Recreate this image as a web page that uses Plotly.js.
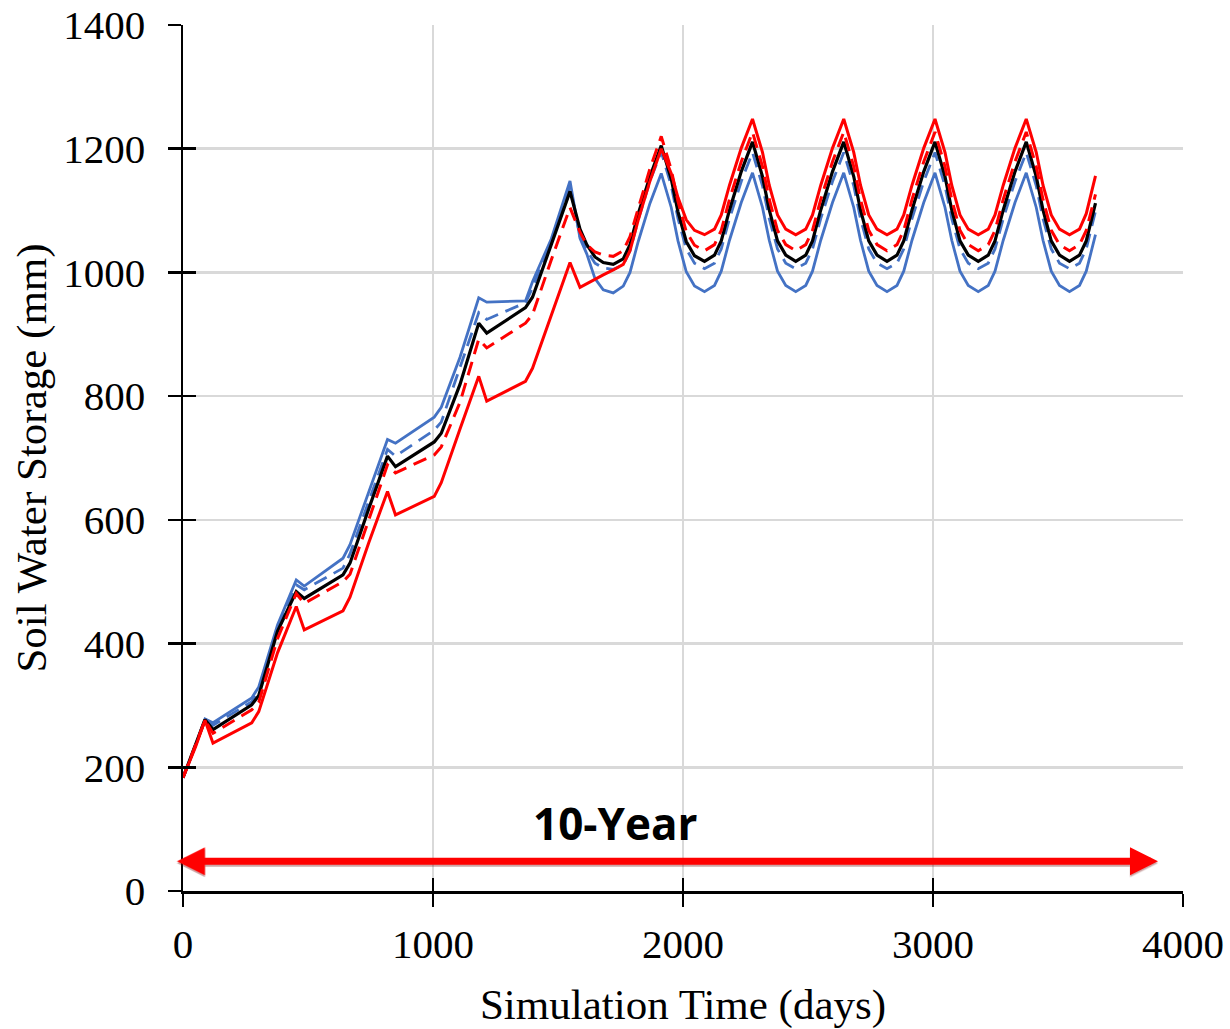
<!DOCTYPE html>
<html>
<head>
<meta charset="utf-8">
<script src="https://cdn.plot.ly/plotly-3.0.1.min.js"></script>
<style>html,body{margin:0;padding:0;background:#fff;}#chart{width:1230px;height:1029px;}</style>
</head>
<body>
<div id="chart"></div>
<script>
// Simulation time (days)
const days = [0, 50, 88, 120, 275, 303, 378, 453, 485, 640, 668, 743, 818, 850, 1005, 1033, 1108, 1183, 1215, 1370, 1398, 1473, 1548,
  1588, 1615, 1648, 1681, 1721, 1761, 1788, 1821, 1868, 1913,
  1953, 1980, 2013, 2046, 2086, 2126, 2153, 2186, 2233, 2278,
  2318, 2345, 2378, 2411, 2451, 2491, 2518, 2551, 2598, 2643,
  2683, 2710, 2743, 2776, 2816, 2856, 2883, 2916, 2963, 3008,
  3048, 3075, 3108, 3141, 3181, 3221, 3248, 3281, 3328, 3373,
  3413, 3440, 3473, 3506, 3546, 3586, 3613, 3650];

// Soil water storage (mm)
const blueSolid = [183, 235, 278, 272, 312, 330, 430, 503, 493, 538, 560, 645, 730, 724, 766, 782, 863, 959, 952, 954, 985, 1054, 1148,
  1055, 1030, 990, 972, 967, 978, 1000, 1050, 1112, 1160,
  1105, 1051, 1001, 978, 969, 979, 1002, 1052, 1113, 1161,
  1105, 1052, 1002, 979, 969, 979, 1002, 1052, 1113, 1161,
  1105, 1052, 1002, 979, 969, 979, 1002, 1052, 1113, 1161,
  1105, 1052, 1002, 979, 969, 979, 1002, 1052, 1113, 1161,
  1105, 1052, 1002, 979, 969, 979, 1002, 1061];

const blueDash = [183, 235, 277, 268, 306, 322, 425, 495, 487, 522, 545, 630, 714, 703, 745, 758, 845, 935, 924, 951, 975, 1050, 1140,
  1058, 1036, 1015, 1007, 1005, 1012, 1035, 1085, 1148, 1195,
  1140, 1087, 1038, 1015, 1006, 1015, 1038, 1087, 1147, 1194,
  1140, 1087, 1038, 1015, 1006, 1015, 1038, 1087, 1147, 1194,
  1140, 1087, 1038, 1015, 1006, 1015, 1038, 1087, 1147, 1194,
  1140, 1087, 1038, 1015, 1006, 1015, 1038, 1087, 1147, 1194,
  1140, 1087, 1038, 1015, 1006, 1015, 1038, 1099];

const blackSolid = [183, 235, 277, 261, 301, 316, 420, 484, 473, 511, 530, 618, 703, 686, 726, 740, 819, 918, 902, 943, 960, 1045, 1131,
  1070, 1045, 1025, 1016, 1013, 1022, 1045, 1095, 1155, 1205,
  1151, 1098, 1050, 1027, 1018, 1028, 1051, 1101, 1163, 1211,
  1155, 1101, 1051, 1028, 1018, 1028, 1051, 1101, 1163, 1211,
  1155, 1101, 1051, 1028, 1018, 1028, 1051, 1101, 1163, 1211,
  1155, 1101, 1051, 1028, 1018, 1028, 1051, 1101, 1163, 1211,
  1155, 1101, 1051, 1028, 1018, 1028, 1051, 1112];

const redDash = [183, 235, 276, 255, 293, 305, 408, 481, 465, 500, 512, 600, 689, 676, 705, 718, 790, 892, 878, 918, 932, 1020, 1105,
  1065, 1045, 1033, 1028, 1026, 1035, 1058, 1105, 1168, 1220,
  1166, 1115, 1066, 1044, 1035, 1045, 1068, 1118, 1179, 1227,
  1171, 1118, 1068, 1045, 1035, 1045, 1068, 1118, 1179, 1227,
  1171, 1118, 1068, 1045, 1035, 1045, 1068, 1118, 1179, 1227,
  1171, 1118, 1068, 1045, 1035, 1045, 1068, 1118, 1179, 1227,
  1171, 1118, 1068, 1045, 1035, 1045, 1068, 1126];

const redSolid = [183, 233, 276, 239, 272, 290, 385, 460, 422, 453, 475, 563, 646, 608, 638, 660, 747, 832, 792, 824, 845, 932, 1016,
  976, 982, 989, 996, 1004, 1013, 1035, 1085, 1148, 1200,
  1160, 1121, 1085, 1068, 1061, 1070, 1093, 1141, 1201, 1248,
  1194, 1141, 1093, 1070, 1061, 1070, 1093, 1141, 1201, 1248,
  1194, 1141, 1093, 1070, 1061, 1070, 1093, 1141, 1201, 1248,
  1194, 1141, 1093, 1070, 1061, 1070, 1093, 1141, 1201, 1248,
  1194, 1141, 1093, 1070, 1061, 1070, 1095, 1156];

// Axis ticks
const xTicks = [0, 1000, 2000, 3000, 4000];
const yTicks = [0, 200, 400, 600, 800, 1000, 1200, 1400];
const xGrid = [1000, 2000, 3000, 4000];
const yGrid = [200, 400, 600, 800, 1000, 1200];

// Annotation
const spanLabel = '10-Year';
const spanStart = -30, spanEnd = 3900, spanLevel = 48;
const labelX = 1728, labelY = 110;

const BLUE = '#4472C4', RED = '#FF0000';
const DASH = '14px,8px';

const traces = [
  {x: days, y: blueSolid, mode: 'lines', line: {color: BLUE, width: 2.8}, name: 'blue solid'},
  {x: days, y: blueDash, mode: 'lines', line: {color: BLUE, width: 2.8, dash: DASH}, name: 'blue dashed'},
  {x: days, y: blackSolid, mode: 'lines', line: {color: '#000000', width: 3.2}, name: 'black'},
  {x: days, y: redSolid, mode: 'lines', line: {color: RED, width: 3}, name: 'red solid'},
  {x: days, y: redDash, mode: 'lines', line: {color: RED, width: 3, dash: DASH}, name: 'red dashed'},
  {x: [], y: [], xaxis: 'x2', yaxis: 'y2', showlegend: false, hoverinfo: 'skip'},
  {x: [], y: [], xaxis: 'x3', yaxis: 'y3', showlegend: false, hoverinfo: 'skip'}
];

const serif = 'Liberation Serif, Times New Roman, serif';
const common = {zeroline: false, fixedrange: true};

const layout = {
  width: 1230, height: 1029,
  margin: {l: 183, r: 47, t: 25, b: 138},
  paper_bgcolor: '#ffffff', plot_bgcolor: '#ffffff',
  showlegend: false,
  xaxis: Object.assign({}, common, {
    range: [0, 4000], tickmode: 'array', tickvals: xTicks, ticktext: xTicks.map(String),
    ticks: 'outside', ticklen: 13, tickwidth: 2.5, tickcolor: '#000',
    showline: true, linecolor: '#000', linewidth: 2.5, showgrid: false,
    tickfont: {family: serif, size: 41, color: '#000'}, ticklabelstandoff: 2,
    title: {text: 'Simulation Time (days)', font: {family: serif, size: 43, color: '#000'}, standoff: 26}
  }),
  yaxis: Object.assign({}, common, {
    range: [0, 1400], tickmode: 'array', tickvals: yTicks, ticktext: yTicks.map(String),
    ticks: 'outside', ticklen: 13, tickwidth: 2.5, tickcolor: '#000',
    showline: true, linecolor: '#000', linewidth: 2.5, showgrid: false,
    tickfont: {family: serif, size: 41, color: '#000'}, ticklabelstandoff: 14,
    title: {text: 'Soil Water Storage (mm)', font: {family: serif, size: 43, color: '#000'}, standoff: 3}
  }),
  xaxis2: Object.assign({}, common, {
    overlaying: 'x', anchor: 'y2', side: 'bottom', range: [0, 4000], tickmode: 'array', tickvals: xTicks,
    ticks: 'inside', ticklen: 13, tickwidth: 2.5, tickcolor: '#000', showticklabels: false, showline: false, showgrid: false
  }),
  yaxis2: Object.assign({}, common, {
    overlaying: 'y', anchor: 'x2', side: 'left', range: [0, 1400], tickmode: 'array', tickvals: yTicks,
    ticks: 'inside', ticklen: 13, tickwidth: 2.5, tickcolor: '#000', showticklabels: false, showline: false, showgrid: false
  }),
  xaxis3: Object.assign({}, common, {
    overlaying: 'x', anchor: 'y3', side: 'bottom', range: [0, 4000], tickmode: 'array', tickvals: xGrid,
    ticks: '', showticklabels: false, showline: false, showgrid: true, gridcolor: '#d9d9d9', gridwidth: 2.5
  }),
  yaxis3: Object.assign({}, common, {
    overlaying: 'y', anchor: 'x3', side: 'left', range: [0, 1400], tickmode: 'array', tickvals: yGrid,
    ticks: '', showticklabels: false, showline: false, showgrid: true, gridcolor: '#d9d9d9', gridwidth: 2.5
  }),
  annotations: [
    {xref: 'x', yref: 'y', axref: 'x', ayref: 'y', x: spanEnd, y: spanLevel - 3, ax: spanStart, ay: spanLevel - 3,
     text: '', showarrow: true, arrowside: 'end+start', arrowhead: 2, startarrowhead: 2,
     arrowsize: 0.8, startarrowsize: 0.8, arrowwidth: 7, arrowcolor: 'rgba(110,0,0,0.35)', standoff: 0, startstandoff: 0},
    {xref: 'x', yref: 'y', axref: 'x', ayref: 'y', x: spanEnd, y: spanLevel, ax: spanStart, ay: spanLevel,
     text: '', showarrow: true, arrowside: 'end+start', arrowhead: 2, startarrowhead: 2,
     arrowsize: 0.8, startarrowsize: 0.8, arrowwidth: 7, arrowcolor: RED, standoff: 0, startstandoff: 0},
    {xref: 'x', yref: 'y', x: labelX, y: labelY, text: '<b>' + spanLabel + '</b>', showarrow: false,
     font: {family: 'Open Sans, Lato, sans-serif', size: 44, color: '#000'}}
  ]
};

Plotly.newPlot('chart', traces, layout, {staticPlot: true, displayModeBar: false});
</script>
</body>
</html>
